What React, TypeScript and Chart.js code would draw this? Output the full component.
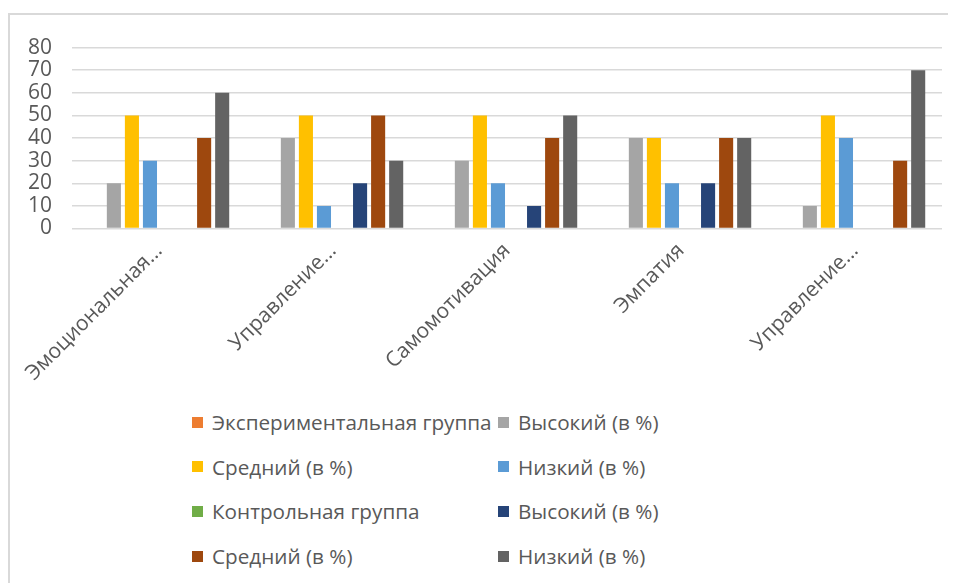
import React, { useEffect, useRef } from "react";
import { Chart, registerables } from "chart.js";

Chart.register(...registerables);

const categories = ["Эмоциональная...", "Управление...", "Самомотивация", "Эмпатия", "Управление..."];
const seriesNames = [
  "Экспериментальная группа",
  "Высокий (в %)",
  "Средний (в %)",
  "Низкий (в %)",
  "Контрольная группа",
  "Высокий (в %)",
  "Средний (в %)",
  "Низкий (в %)",
];
const seriesColors = ["#ED7D31", "#A5A5A5", "#FFC000", "#5B9BD5", "#70AD47", "#264478", "#9E480E", "#636363"];
const expGroup: (number | null)[] = [null, null, null, null, null];
const expHigh = [20, 40, 30, 40, 10];
const expMid = [50, 50, 50, 40, 50];
const expLow = [30, 10, 20, 20, 40];
const ctrlGroup: (number | null)[] = [null, null, null, null, null];
const ctrlHigh = [0, 20, 10, 20, 0];
const ctrlMid = [40, 50, 40, 40, 30];
const ctrlLow = [60, 30, 50, 40, 70];
const seriesValues = [expGroup, expHigh, expMid, expLow, ctrlGroup, ctrlHigh, ctrlMid, ctrlLow];
const yTicks = [0, 10, 20, 30, 40, 50, 60, 70, 80];

const FONT = "'Open Sans', 'Liberation Sans', sans-serif";
const TEXT = "#595959";

export default function App() {
  const ref = useRef<HTMLCanvasElement | null>(null);
  useEffect(() => {
    if (!ref.current) return;
    const chart = new Chart(ref.current, {
      type: "bar",
      data: {
        labels: categories,
        datasets: seriesNames.map((name, i) => ({
          label: name,
          data: seriesValues[i],
          backgroundColor: seriesColors[i],
          borderWidth: 0,
          categoryPercentage: 0.83,
          barPercentage: 0.78,
        })),
      },
      options: {
        responsive: false,
        animation: false,
        layout: { padding: { top: 28.5, right: 7, left: 0, bottom: 0 } },
        plugins: { legend: { display: false }, tooltip: { enabled: false } },
        scales: {
          x: {
            grid: { display: false },
            border: { display: false },
            ticks: {
              minRotation: 45,
              maxRotation: 45,
              autoSkip: false,
              color: TEXT,
              padding: 2,
              font: { family: FONT, size: 21 },
            },
            afterFit: (s: any) => {
              s.height = 166.5;
            },
          },
          y: {
            min: 0,
            max: 80,
            afterBuildTicks: (s: any) => {
              s.ticks = yTicks.map((v) => ({ value: v }));
            },
            grid: { color: "#D9D9D9", lineWidth: 1.5, drawTicks: false },
            border: { display: false },
            ticks: {
              autoSkip: false,
              color: TEXT,
              padding: 20,
              font: { family: FONT, size: 21 },
            },
            afterFit: (s: any) => {
              s.width = 63;
            },
          },
        },
      },
    });
    return () => chart.destroy();
  }, []);

  const rows = [0, 1, 2, 3];
  return (
    <div style={{ position: "relative", width: 948, height: 575, overflow: "hidden", fontFamily: FONT }}>
      <div
        style={{
          position: "absolute",
          left: 0,
          top: 5,
          width: 1000,
          height: 700,
          border: "2px solid #D9D9D9",
          boxSizing: "border-box",
        }}
      />
      <div style={{ position: "absolute", left: 1, top: 7 }}>
        <canvas ref={ref} width={940} height={380} style={{ display: "block" }} />
      </div>
      {seriesNames.map((name, i) => {
        const row = Math.floor(i / 2);
        const col = i % 2;
        return (
          <div
            key={i}
            style={{
              position: "absolute",
              left: col === 0 ? 184 : 490,
              top: 414 + rows[row] * 44.7 - 14,
              height: 28,
              display: "flex",
              alignItems: "center",
              whiteSpace: "nowrap",
              color: TEXT,
              fontSize: 20.7,
            }}
          >
            <span style={{ display: "inline-block", width: 11, height: 11, background: seriesColors[i], marginRight: 9 }} />
            <span>{name}</span>
          </div>
        );
      })}
    </div>
  );
}
